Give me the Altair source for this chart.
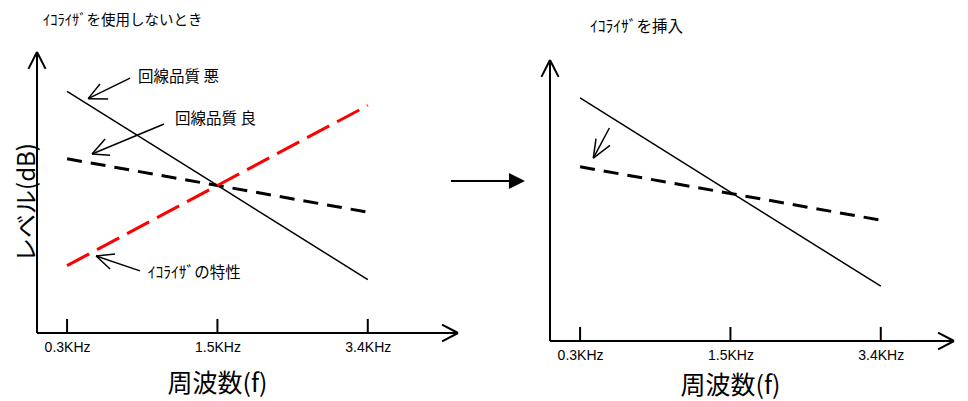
import altair as alt
import pandas as pd

# ---------------- data ----------------
freq_pos = [1, 2, 3]
freq_labels = ["0.3KHz", "1.5KHz", "3.4KHz"]

# left panel: without equalizer
bad_line = [86, 52.5, 19]     # 回線品質 悪
good_line = [62, 52.5, 43]    # 回線品質 良
eq_curve = [24, 52.5, 81]     # ｲｺﾗｲｻﾞの特性

# right panel: equalizer inserted
after_bad = [86.5, 53, 19.5]
after_good = [62, 52.5, 43]

# annotation labels (text, x, y)
note_text = ["回線品質 悪", "回線品質 良", "ｲｺﾗｲｻﾞの特性"]
note_x = [1.472, 1.718, 1.536]
note_y = [91.1, 76.2, 21.3]

# annotation pointer arrows: shaft start -> tip, plus two head arms
ptr_left_start = [(1.419, 90.7), (1.645, 74.4), (1.485, 22.1)]
ptr_left_tip = [(1.140, 83.4), (1.166, 63.7), (1.193, 27.4)]
ptr_left_arm1 = [(1.219, 88.6), (1.253, 69.0), (1.319, 28.1)]
ptr_left_arm2 = [(1.273, 83.3), (1.286, 63.3), (1.286, 22.8)]

ptr_right_start = [(1.195, 75.8)]
ptr_right_tip = [(1.088, 65.1)]
ptr_right_arm1 = [(1.106, 72.0)]
ptr_right_arm2 = [(1.199, 69.6)]

# the big "→" between the panels (left panel coordinates)
mid_arrow_from = (3.553, 54.1)
mid_arrow_to = (3.939, 54.1)
mid_arrow_head = (3.992, 54.1)

# ---------------- layout constants ----------------
FONT = "Noto Sans CJK JP"
X_MIN = 0.8
X_MAX_L, X_MAX_R = 3.6, 3.487
Y_MAX_L, Y_MAX_R = 100, 102.85
W_L, W_R = 421, 404
H_L, H_R = 281, 289
AX_TOP = 100


def label_expr():
    expr = "''"
    for p, l in reversed(list(zip(freq_pos, freq_labels))):
        expr = f"datum.value == {p} ? '{l}' : ({expr})"
    return expr


def x_axis(title_y):
    return alt.Axis(
        values=freq_pos, labelExpr=label_expr(), domain=False, ticks=False, tickSize=0,
        grid=False, labelFlush=False, labelFont="Liberation Sans", labelFontSize=14,
        labelColor="black", labelPadding=7, labelBaseline="top",
        title="周波数(f)", titleFont=FONT, titleFontSize=25, titleFontWeight="normal",
        titleColor="black", titleX=180, titleY=title_y, titleBaseline="middle", titleAlign="center",
    )


def segs(pairs):
    return pd.DataFrame([{"x": a[0], "y": a[1], "x2": b[0], "y2": b[1]} for a, b in pairs])


def axis_segments(x_max):
    pairs = [
        ((X_MIN, 0), (X_MIN, AX_TOP)),            # y axis line
        ((X_MIN, 0), (x_max, 0)),                 # x axis line
        ((X_MIN, AX_TOP), (X_MIN - 0.057, AX_TOP - 6.0)),
        ((X_MIN, AX_TOP), (X_MIN + 0.057, AX_TOP - 6.0)),
        ((x_max, 0), (x_max - 0.106, 3.0)),
        ((x_max, 0), (x_max - 0.106, -3.0)),
    ]
    for p in freq_pos:
        pairs.append(((p, 0), (p, 5.0)))
    return pairs


def pointer_segments(starts, tips, arm1, arm2):
    pairs = []
    for s, t, a1, a2 in zip(starts, tips, arm1, arm2):
        pairs += [(s, t), (t, a1), (t, a2)]
    return pairs


def panel(x_max, y_max, width, height, yaxis, title_y, title, lines, pointers, extra_rules, texts, head):
    X = alt.X("x:Q", scale=alt.Scale(domain=[X_MIN, x_max], nice=False, zero=False), axis=x_axis(title_y))
    Y = alt.Y("y:Q", scale=alt.Scale(domain=[0, y_max], nice=False, zero=False), axis=yaxis)
    layers = []
    layers.append(
        alt.Chart(segs(axis_segments(x_max) + extra_rules)).mark_rule(color="black", strokeWidth=2)
        .encode(x=X, y=Y, x2="x2:Q", y2="y2:Q")
    )
    for vals, style in lines:
        df = pd.DataFrame({"x": freq_pos, "y": vals})
        layers.append(alt.Chart(df).mark_line(**style).encode(x=X, y=Y))
    layers.append(
        alt.Chart(segs(pointers)).mark_rule(color="black", strokeWidth=1.5)
        .encode(x=X, y=Y, x2="x2:Q", y2="y2:Q")
    )
    if texts is not None:
        layers.append(
            alt.Chart(texts).mark_text(align="left", baseline="middle", font=FONT, fontSize=15.5, color="black")
            .encode(x=X, y=Y, text="t:N")
        )
    if head is not None:
        layers.append(
            alt.Chart(pd.DataFrame({"x": [head[0]], "y": [head[1]]}))
            .mark_point(shape="M-1,-1L1,0L-1,1Z", size=256, filled=True, color="black", opacity=1, strokeWidth=0)
            .encode(x=X, y=Y)
        )
    return alt.layer(*layers).properties(width=width, height=height, title=title)


solid = dict(color="black", strokeWidth=1.5)
dashed = dict(color="black", strokeWidth=3, strokeDash=[15, 9])
red = dict(color="#ff0000", strokeWidth=3, strokeDash=[25, 9])

y_axis_left = alt.Axis(
    domain=False, ticks=False, labels=False, grid=False,
    title="レベル(dB)", titleFont=FONT, titleFontSize=24, titleFontWeight="normal", titleColor="black",
    titleX=-10, titleY=150, titleAngle=270, titleBaseline="middle", titleAlign="center",
)

left = panel(
    X_MAX_L, Y_MAX_L, W_L, H_L, y_axis_left, 50,
    alt.TitleParams("ｲｺﾗｲｻﾞを使用しないとき", anchor="start", frame="group", dx=6, offset=23,
                    fontSize=14.5, font=FONT, fontWeight="normal", color="black"),
    [(bad_line, solid), (good_line, dashed), (eq_curve, red)],
    pointer_segments(ptr_left_start, ptr_left_tip, ptr_left_arm1, ptr_left_arm2),
    [(mid_arrow_from, mid_arrow_to)],
    pd.DataFrame({"t": note_text, "x": note_x, "y": note_y}),
    mid_arrow_head,
)

right = panel(
    X_MAX_R, Y_MAX_R, W_R, H_R, None, 44,
    alt.TitleParams("ｲｺﾗｲｻﾞを挿入", anchor="start", frame="group", dx=40, offset=17,
                    fontSize=15.5, font=FONT, fontWeight="normal", color="black"),
    [(after_bad, solid), (after_good, dashed)],
    pointer_segments(ptr_right_start, ptr_right_tip, ptr_right_arm1, ptr_right_arm2),
    [],
    None,
    None,
)

chart = (
    alt.hconcat(left, right, spacing=92, bounds="flush")
    .properties(padding={"left": 7, "top": 4, "right": 0, "bottom": 6})
    .configure_view(strokeWidth=0)
)

chart.save("out.html", embed_options={"renderer": "svg", "actions": False})
